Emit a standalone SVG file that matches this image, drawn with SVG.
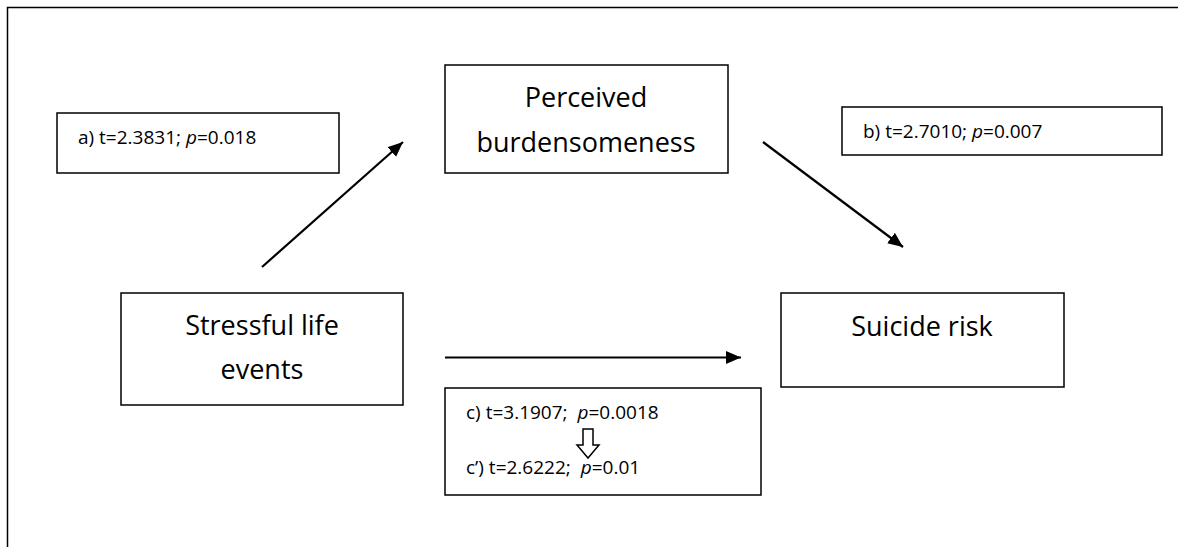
<svg xmlns="http://www.w3.org/2000/svg" width="1178" height="547" viewBox="0 0 1178 547">
<style>
.box{fill:#fff;stroke:#000;stroke-width:1.5}
.t{font-family:"Open Sans","Noto Sans",sans-serif;fill:#000}
.big{font-size:27px;text-anchor:middle}
.small{font-size:19px}
.conn{stroke:#000;stroke-width:2.2;fill:none}
</style>
<defs>
<marker id="ah" markerUnits="userSpaceOnUse" markerWidth="16" markerHeight="14" refX="15" refY="6.5" orient="auto">
<path d="M0,0 L15,6.5 L0,13 z" fill="#000"/>
</marker>
</defs>
<rect width="1178" height="547" fill="#fff"/>
<path d="M7.5,547 V7.5 H1178" fill="none" stroke="#000" stroke-width="1.5"/>

<g id="label-a">
<rect class="box" x="57" y="113" width="282" height="60"/>
<text class="t small" x="78" y="144">a) t=2.3831; <tspan font-style="italic">p</tspan>=0.018</text>
</g>
<g id="label-b">
<rect class="box" x="842" y="107" width="320" height="48"/>
<text class="t small" x="863" y="138">b) t=2.7010; <tspan font-style="italic">p</tspan>=0.007</text>
</g>
<g id="perceived">
<rect class="box" x="445" y="65" width="283" height="108"/>
<text class="t big" x="586" y="107">Perceived</text>
<text class="t big" x="586" y="152">burdensomeness</text>
</g>
<g id="stressful">
<rect class="box" x="121" y="293" width="282" height="112"/>
<text class="t big" x="262" y="335">Stressful life</text>
<text class="t big" x="262" y="379">events</text>
</g>
<g id="suicide">
<rect class="box" x="781" y="293" width="283" height="94"/>
<text class="t big" x="922" y="336">Suicide risk</text>
</g>
<g id="label-c">
<rect class="box" x="445" y="388" width="316" height="107"/>
<text class="t small" x="466" y="419">c) t=3.1907;&#160; <tspan font-style="italic">p</tspan>=0.0018</text>
<path d="M583,429 H593 V445 H599 L588,458 L577,445 H583 Z" fill="#fff" stroke="#000" stroke-width="1.5"/>
<text class="t small" x="466" y="474">c’) t=2.6222;&#160; <tspan font-style="italic">p</tspan>=0.01</text>
</g>
<g id="connectors">
<line class="conn" x1="262" y1="267" x2="403" y2="142" marker-end="url(#ah)"/>
<line class="conn" x1="763" y1="142" x2="903" y2="247" marker-end="url(#ah)"/>
<line class="conn" x1="445" y1="357.5" x2="741" y2="357.5" marker-end="url(#ah)"/>
</g>
</svg>
